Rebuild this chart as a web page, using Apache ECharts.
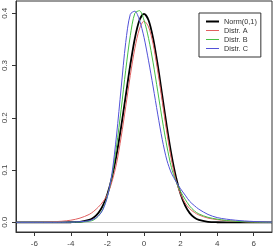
<!DOCTYPE html>
<html>
<head>
<meta charset="utf-8">
<script src="https://cdn.jsdelivr.net/npm/echarts@6/dist/echarts.min.js"></script>
<style>html,body{margin:0;padding:0;background:#fff}#c{width:273px;height:249px}</style>
</head>
<body>
<div id="c"></div>
<script>
const xs = [-7,-6,-5.5,-5,-4.5,-4,-3.5,-3,-2.75,-2.5,-2.25,-2,-1.75,-1.5,-1.25,-1,-0.75,-0.5,-0.25,0,0.25,0.5,0.75,1,1.25,1.5,1.75,2,2.25,2.5,2.75,3,3.5,4,4.5,5,5.5,6,7];
const normY = [0,0,0,0,0,0.0001,0.0009,0.0044,0.0091,0.0175,0.0317,0.054,0.0863,0.1295,0.1826,0.242,0.3011,0.3521,0.3867,0.3989,0.3867,0.3521,0.3011,0.242,0.1826,0.1295,0.0863,0.054,0.0317,0.0175,0.0091,0.0044,0.0009,0.0001,0,0,0,0,0];
const distrA = [0,0.0001,0.0004,0.001,0.002,0.004,0.008,0.015,0.021,0.029,0.039,0.053,0.078,0.113,0.163,0.221,0.281,0.333,0.370,0.385,0.374,0.341,0.290,0.231,0.172,0.120,0.080,0.054,0.037,0.026,0.019,0.014,0.008,0.005,0.003,0.002,0.001,0.0005,0];
const distrB = [0,0,0,0,0,0.0001,0.0004,0.0019,0.0045,0.0116,0.025,0.05,0.089,0.146,0.216,0.291,0.357,0.400,0.405,0.387,0.352,0.305,0.251,0.196,0.146,0.105,0.078,0.059,0.044,0.031,0.022,0.016,0.0095,0.006,0.0035,0.002,0.001,0.0005,0];
const distrC = [0,0,0,0,0.0001,0.0003,0.001,0.003,0.006,0.012,0.024,0.049,0.094,0.167,0.257,0.344,0.398,0.404,0.387,0.354,0.309,0.259,0.207,0.158,0.119,0.094,0.078,0.064,0.052,0.04,0.032,0.025,0.015,0.009,0.006,0.004,0.0025,0.0015,0.0003];
const xTicks = [-6,-4,-2,0,2,4,6];
const yTicks = [0,0.1,0.2,0.3,0.4];
const names = ['Norm(0,1)','Distr. A','Distr. B','Distr. C'];
const colors = ['#000000','#e06060','#45c045','#5252d8'];
const widths = [1.8,1,1,1];
const ys = [normY, distrA, distrB, distrC];

const chart = echarts.init(document.getElementById('c'), null, {renderer:'canvas'});
const font = 'Liberation Sans, Arial, Helvetica, sans-serif';
const series = names.map((n,i)=>({
  name: n, type: 'line', symbol: 'none', smooth: 0.3,
  data: xs.map((x,j)=>[x, ys[i][j]]),
  lineStyle: {color: colors[i], width: widths[i]},
  itemStyle: {color: colors[i]},
  z: 3 + i
}));
series[0].markLine = {
  silent: true, symbol: 'none', label: {show:false}, animation:false,
  lineStyle: {color:'#c4c4c4', type:'solid', width:1},
  data: [{yAxis: 0}], z: 1
};
chart.setOption({
  animation: false,
  grid: {left:16, right:1, top:1, bottom:17, show:true, borderColor:'#333', borderWidth:1, backgroundColor:'transparent'},
  xAxis: {
    type:'value', min:-7, max:7,
    axisLine:{show:true, onZero:false, lineStyle:{color:'#333', width:1}},
    axisTick:{show:true, customValues:xTicks, length:4, lineStyle:{color:'#333'}},
    axisLabel:{customValues:xTicks, fontSize:8, color:'#444', margin:8, fontFamily:font},
    splitLine:{show:false}
  },
  yAxis: {
    type:'value', min:-0.0186, max:0.4235,
    axisLine:{show:true, onZero:false, lineStyle:{color:'#333', width:1}},
    axisTick:{show:true, customValues:yTicks, length:4, lineStyle:{color:'#333'}},
    axisLabel:{customValues:yTicks, fontSize:8, color:'#444', margin:7, rotate:90, fontFamily:font,
      formatter: v => v.toFixed(1)},
    splitLine:{show:false}
  },
  legend: {
    orient:'vertical', left:199, top:13,
    padding:[4.5,4,4.5,7], borderColor:'#333', borderWidth:1,
    itemWidth:13, itemHeight:8, itemGap:1,
    textStyle:{fontSize:7.3, color:'#333', lineHeight:8, fontFamily:font},
    data: names.map((n,i)=>({name:n, icon: i===0 ? 'path://M0,0H13V2H0Z' : 'path://M0,0H13V1H0Z'}))
  },
  series: series
});
</script>
</body>
</html>
